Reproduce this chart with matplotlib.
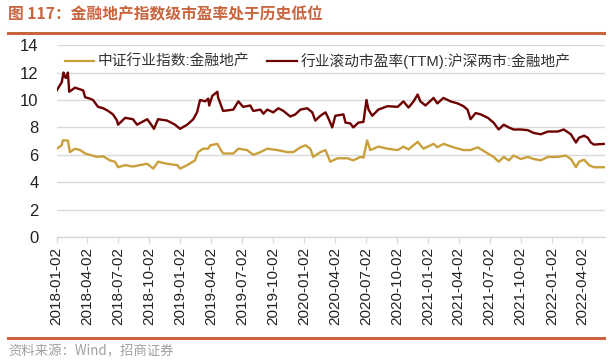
import matplotlib
matplotlib.use("Agg")
import matplotlib.pyplot as plt
import pandas as pd

plt.rcParams['font.family'] = ['Liberation Sans', 'Noto Sans CJK SC', 'DejaVu Sans']

title = "图 117：金融地产指数级市盈率处于历史低位"
source = "资料来源：Wind，招商证券"
label_a = "中证行业指数:金融地产"
label_b = "行业滚动市盈率(TTM):沪深两市:金融地产"

yticks = [0, 2, 4, 6, 8, 10, 12, 14]
xtick_labels = ["2018-01-02", "2018-04-02", "2018-07-02", "2018-10-02",
                "2019-01-02", "2019-04-02", "2019-07-02", "2019-10-02",
                "2020-01-02", "2020-04-02", "2020-07-02", "2020-10-02",
                "2021-01-02", "2021-04-02", "2021-07-02", "2021-10-02",
                "2022-01-02", "2022-04-02"]

pe_dates = ["2018-01-02", "2018-01-17", "2018-01-22", "2018-01-26", "2018-01-29", "2018-02-04",
            "2018-02-08", "2018-02-25", "2018-03-21", "2018-03-27", "2018-04-10", "2018-04-19",
            "2018-05-04", "2018-05-19", "2018-06-03", "2018-06-17", "2018-06-29", "2018-07-02",
            "2018-07-23", "2018-08-15", "2018-08-27", "2018-09-26", "2018-10-08", "2018-10-16",
            "2018-10-28", "2018-11-24", "2018-12-17", "2019-01-01", "2019-01-22", "2019-02-09",
            "2019-02-20", "2019-03-01", "2019-03-16", "2019-03-25", "2019-03-28", "2019-04-06",
            "2019-04-21", "2019-04-23", "2019-05-05", "2019-05-08", "2019-06-07", "2019-06-22",
            "2019-07-06", "2019-07-27", "2019-08-05", "2019-08-26", "2019-09-04", "2019-09-15",
            "2019-10-03", "2019-10-18", "2019-11-02", "2019-11-22", "2019-12-07", "2019-12-22",
            "2020-01-11", "2020-01-26", "2020-02-04", "2020-02-19", "2020-03-05", "2020-03-13",
            "2020-03-25", "2020-04-03", "2020-04-27", "2020-05-03", "2020-05-17", "2020-05-26",
            "2020-06-10", "2020-06-25", "2020-07-04", "2020-07-10", "2020-07-21", "2020-08-08",
            "2020-09-04", "2020-10-04", "2020-10-21", "2020-11-05", "2020-11-20", "2020-12-02",
            "2020-12-10", "2020-12-25", "2021-01-18", "2021-01-29", "2021-02-16", "2021-03-09",
            "2021-03-30", "2021-04-16", "2021-04-28", "2021-05-07", "2021-05-22", "2021-06-06",
            "2021-06-27", "2021-07-14", "2021-07-29", "2021-08-13", "2021-08-28", "2021-09-11",
            "2021-10-02", "2021-10-23", "2021-11-09", "2021-11-30", "2021-12-21", "2022-01-19",
            "2022-02-06", "2022-02-27", "2022-03-14", "2022-03-23", "2022-04-07", "2022-04-18",
            "2022-04-27", "2022-05-06", "2022-06-04"]
pe_values = [10.7, 11.3, 12.0, 11.7, 11.6, 12.0,
             10.6, 10.9, 10.7, 10.2, 10.1, 10.0,
             9.5, 9.4, 9.2, 8.95, 8.5, 8.2,
             8.7, 8.6, 8.2, 8.6, 8.2, 7.9,
             8.6, 8.5, 8.2, 7.9, 8.2, 8.6,
             9.1, 10.0, 9.9, 10.1, 9.6, 10.3,
             10.6, 10.2, 9.4, 9.2, 9.3, 9.9,
             9.5, 9.6, 9.2, 9.3, 9.0, 9.3,
             9.1, 9.4, 9.2, 8.8, 8.95, 9.3,
             9.4, 9.1, 8.5, 8.85, 9.1, 8.7,
             8.0, 8.85, 8.95, 8.35, 8.3, 8.0,
             8.35, 8.4, 10.0, 9.3, 8.85, 9.3,
             9.55, 9.5, 9.9, 9.45, 9.9, 10.4,
             9.9, 9.6, 10.15, 9.75, 10.15, 9.9,
             9.75, 9.55, 9.3, 8.6, 9.05, 8.95,
             8.7, 8.35, 7.85, 8.2, 8.0, 7.85,
             7.85, 7.8, 7.6, 7.5, 7.7, 7.7,
             7.85, 7.5, 6.9, 7.25, 7.4, 7.25,
             6.9, 6.75, 6.8]

idx_dates = ["2018-01-02", "2018-01-17", "2018-01-20", "2018-02-04", "2018-02-10", "2018-02-25",
             "2018-03-12", "2018-03-27", "2018-04-10", "2018-05-01", "2018-05-19", "2018-06-08",
             "2018-06-23", "2018-07-02", "2018-07-23", "2018-08-15", "2018-09-04", "2018-09-26",
             "2018-10-14", "2018-10-28", "2018-11-24", "2018-12-24", "2019-01-01", "2019-01-22",
             "2019-02-14", "2019-02-23", "2019-03-10", "2019-03-25", "2019-03-31", "2019-04-21",
             "2019-04-29", "2019-05-08", "2019-06-07", "2019-06-22", "2019-07-18", "2019-08-05",
             "2019-08-26", "2019-09-15", "2019-10-15", "2019-11-14", "2019-12-01", "2019-12-22",
             "2020-01-06", "2020-01-20", "2020-01-29", "2020-02-19", "2020-03-05", "2020-03-19",
             "2020-04-09", "2020-05-09", "2020-05-26", "2020-06-16", "2020-06-25", "2020-07-06",
             "2020-07-15", "2020-08-08", "2020-09-04", "2020-10-04", "2020-10-21", "2020-11-05",
             "2020-12-02", "2020-12-19", "2021-01-18", "2021-01-29", "2021-02-16", "2021-03-18",
             "2021-04-16", "2021-05-07", "2021-05-28", "2021-06-27", "2021-07-14", "2021-07-29",
             "2021-08-13", "2021-08-28", "2021-09-11", "2021-10-02", "2021-10-23", "2021-11-09",
             "2021-11-30", "2021-12-21", "2022-01-19", "2022-02-12", "2022-02-27", "2022-03-14",
             "2022-03-23", "2022-04-07", "2022-04-22", "2022-05-06", "2022-06-04"]
idx_values = [6.45, 6.7, 7.05, 7.05, 6.2, 6.45,
              6.35, 6.1, 6.0, 5.85, 5.9, 5.6,
              5.5, 5.1, 5.25, 5.15, 5.25, 5.35,
              5.0, 5.5, 5.35, 5.25, 5.0, 5.25,
              5.6, 6.2, 6.45, 6.45, 6.7, 6.8,
              6.45, 6.1, 6.1, 6.45, 6.35, 6.0,
              6.2, 6.45, 6.35, 6.2, 6.2, 6.55,
              6.7, 6.45, 5.85, 6.2, 6.35, 5.5,
              5.75, 5.75, 5.6, 5.85, 5.8, 7.05,
              6.35, 6.6, 6.45, 6.35, 6.6, 6.4,
              6.95, 6.45, 6.8, 6.55, 6.8, 6.55,
              6.35, 6.35, 6.55, 6.1, 5.85, 5.5,
              5.85, 5.6, 5.95, 5.7, 5.85, 5.7,
              5.6, 5.85, 5.85, 5.95, 5.7, 5.1,
              5.5, 5.65, 5.25, 5.1, 5.1]

c_gold = "#C9A03C"
c_red = "#6E0000"
c_brand = "#C8653E"

fig = plt.figure(figsize=(6.15, 3.61), dpi=100)
ax = fig.add_axes([0.0922, 0.343, 0.8917, 0.532])

ax.plot(pd.to_datetime(idx_dates), idx_values, color=c_gold, lw=1.7, label=label_a)
ax.plot(pd.to_datetime(pe_dates), pe_values, color=c_red, lw=1.7, label=label_b)

ax.set_ylim(0, 14)
ax.set_yticks(yticks)
ax.set_xlim(pd.Timestamp("2018-01-02"), pd.Timestamp("2022-06-08"))
xt = pd.to_datetime(xtick_labels)
ax.set_xticks(xt)
ax.set_xticklabels(xtick_labels, rotation=90, fontsize=11, color="#222222")
ax.tick_params(axis='y', length=0, labelsize=12, labelcolor="#222222", pad=13)
ax.tick_params(axis='x', length=4, color="#D9D9D9", width=1, pad=3)

ax.grid(axis='y', color="#D9D9D9", lw=1)
ax.set_axisbelow(True)
for s in ['top', 'right', 'left']:
    ax.spines[s].set_visible(False)
ax.spines['bottom'].set_color("#D9D9D9")
ax.spines['bottom'].set_linewidth(1)

leg = ax.legend(loc='upper left', bbox_to_anchor=(0.0, 1.0), ncol=2, frameon=False,
                handlelength=2.0, columnspacing=1.2, handletextpad=0.25,
                borderaxespad=0.0, borderpad=0.55,
                prop={'family': ['Liberation Sans', 'Noto Sans CJK SC'], 'size': 10.6})
for t in leg.get_texts():
    t.set_color("#333333")
for h in leg.get_lines():
    h.set_linewidth(1.6)

fig.text(0.013, 0.960, title, fontsize=11.3, fontweight='bold', color=c_brand,
         family=['Noto Sans CJK SC', 'DejaVu Sans'], va='center', ha='left')
fig.add_artist(plt.Line2D([0.013, 0.982], [0.908, 0.908], color=c_brand, lw=2.2,
                          transform=fig.transFigure))
fig.add_artist(plt.Line2D([0.013, 0.982], [0.064, 0.064], color=c_brand, lw=2.2,
                          transform=fig.transFigure))
fig.text(0.013, 0.026, source, fontsize=9.6, color="#A0A0A0",
         family=['Noto Sans CJK SC', 'DejaVu Sans'], va='center', ha='left')

fig.savefig("out.png", dpi=100)
